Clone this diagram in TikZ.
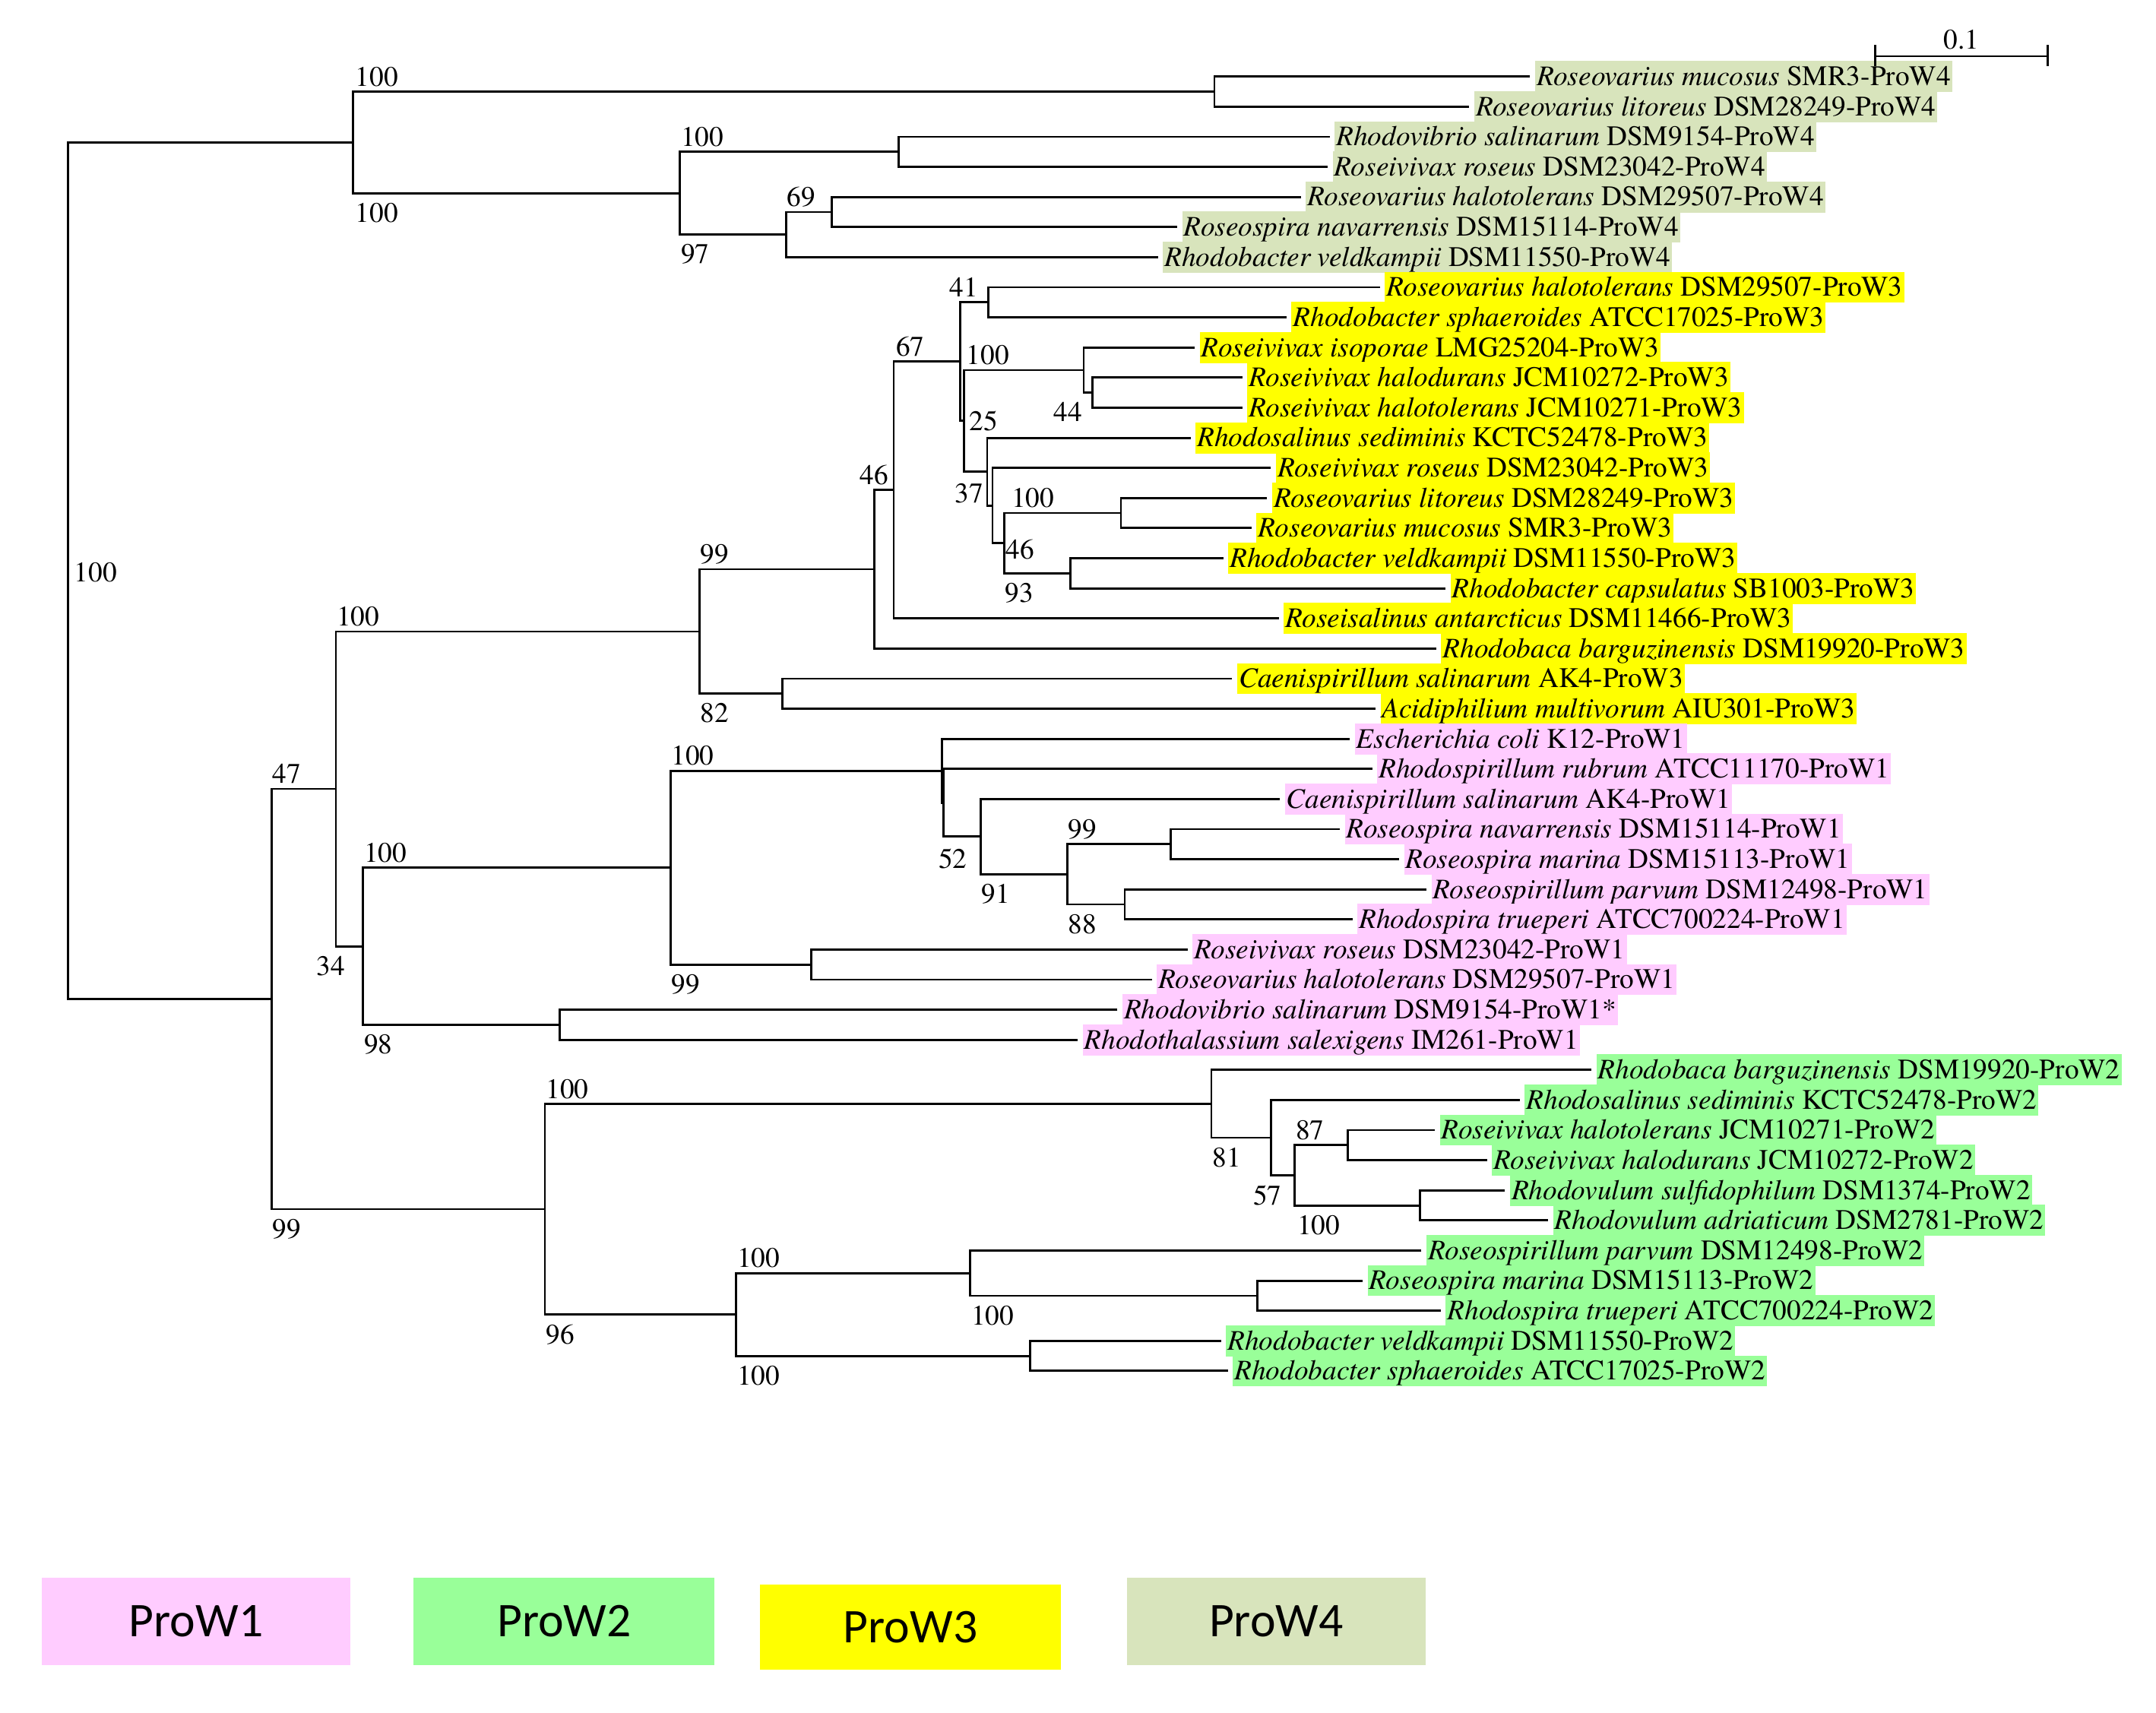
\documentclass[tikz,border=0pt]{standalone}
\usepackage{fontspec}
\setmainfont{texgyretermes}[Extension=.otf, UprightFont=*-regular, ItalicFont=*-italic, BoldFont=*-bold, BoldItalicFont=*-bolditalic]
\newfontfamily\legfont{Carlito}
\definecolor{w1col}{HTML}{FFCCFF}
\definecolor{w2col}{HTML}{99FF99}
\definecolor{w3col}{HTML}{FFFF00}
\definecolor{w4col}{HTML}{D8E4BC}
\tikzset{
	leaf/.style={anchor=west, inner xsep=1.2pt, inner ysep=1.2pt, outer xsep=3.6pt, outer ysep=0pt, text height=16.5pt, text depth=3.5pt},
	w1/.style={leaf, fill=w1col},
	w2/.style={leaf, fill=w2col},
	w3/.style={leaf, fill=w3col},
	w4/.style={leaf, fill=w4col},
	bsa/.style={anchor=base west, inner sep=0pt, yshift=4pt},
	bsb/.style={anchor=north west, inner sep=0pt, yshift=-6.3pt},
	legbox/.style={inner sep=0pt, minimum height=63.2pt, font=\legfont\fontsize{35}{40}\selectfont}
}
\begin{document}
\begin{tikzpicture}[x=1pt, y=-1pt, line width=1.55pt, font=\fontsize{20.5}{22}\selectfont]
	\useasboundingbox (0,0) rectangle (1560,1238.9);

	%leaves ProW4
	\node[w4] (l1) at (1107.1,55.4) {\textit{Roseovarius mucosus} SMR3-ProW4};
	\node[w4] (l2) at (1063.1,77.2) {\textit{Roseovarius litoreus} DSM28249-ProW4};
	\node[w4] (l3) at (962.1,99.0) {\textit{Rhodovibrio salinarum} DSM9154-ProW4};
	\node[w4] (l4) at (960.6,120.7) {\textit{Roseivivax roseus} DSM23042-ProW4};
	\node[w4] (l5) at (941.2,142.5) {\textit{Roseovarius halotolerans} DSM29507-ProW4};
	\node[w4] (l6) at (851.8,164.3) {\textit{Roseospira navarrensis} DSM15114-ProW4};
	\node[w4] (l7) at (837.9,186.1) {\textit{Rhodobacter veldkampii} DSM11550-ProW4};
	%leaves ProW3
	\node[w3] (l8) at (998.3,207.9) {\textit{Roseovarius halotolerans} DSM29507-ProW3};
	\node[w3] (l9) at (930.9,229.6) {\textit{Rhodobacter sphaeroides} ATCC17025-ProW3};
	\node[w3] (l10) at (864.5,251.4) {\textit{Roseivivax isoporae} LMG25204-ProW3};
	\node[w3] (l11) at (898.9,273.2) {\textit{Roseivivax halodurans} JCM10272-ProW3};
	\node[w3] (l12) at (898.9,295.0) {\textit{Roseivivax halotolerans} JCM10271-ProW3};
	\node[w3] (l13) at (861.5,316.8) {\textit{Rhodosalinus sediminis} KCTC52478-ProW3};
	\node[w3] (l14) at (919.6,338.5) {\textit{Roseivivax roseus} DSM23042-ProW3};
	\node[w3] (l15) at (916.8,360.3) {\textit{Roseovarius litoreus} DSM28249-ProW3};
	\node[w3] (l16) at (905.6,382.1) {\textit{Roseovarius mucosus} SMR3-ProW3};
	\node[w3] (l17) at (885.1,403.9) {\textit{Rhodobacter veldkampii} DSM11550-ProW3};
	\node[w3] (l18) at (1045.9,425.7) {\textit{Rhodobacter capsulatus} SB1003-ProW3};
	\node[w3] (l19) at (925.3,447.4) {\textit{Roseisalinus antarcticus} DSM11466-ProW3};
	\node[w3] (l20) at (1039.2,469.2) {\textit{Rhodobaca barguzinensis} DSM19920-ProW3};
	\node[w3] (l21) at (891.6,491.0) {\textit{Caenispirillum salinarum} AK4-ProW3};
	\node[w3] (l22) at (995.4,512.8) {\textit{Acidiphilium multivorum} AIU301-ProW3};
	%leaves ProW1
	\node[w1] (l23) at (976.7,534.6) {\textit{Escherichia coli} K12-ProW1};
	\node[w1] (l24) at (992.8,556.3) {\textit{Rhodospirillum rubrum} ATCC11170-ProW1};
	\node[w1] (l25) at (926.0,578.1) {\textit{Caenispirillum salinarum} AK4-ProW1};
	\node[w1] (l26) at (969.5,599.9) {\textit{Roseospira navarrensis} DSM15114-ProW1};
	\node[w1] (l27) at (1012.4,621.7) {\textit{Roseospira marina} DSM15113-ProW1};
	\node[w1] (l28) at (1032.1,643.5) {\textit{Roseospirillum parvum} DSM12498-ProW1};
	\node[w1] (l29) at (978.5,665.2) {\textit{Rhodospira trueperi} ATCC700224-ProW1};
	\node[w1] (l30) at (859.2,687.0) {\textit{Roseivivax roseus} DSM23042-ProW1};
	\node[w1] (l31) at (833.5,708.8) {\textit{Roseovarius halotolerans} DSM29507-ProW1};
	\node[w1] (l32) at (808.5,730.6) {\textit{Rhodovibrio salinarum} DSM9154-ProW1*};
	\node[w1] (l33) at (779.8,752.4) {\textit{Rhodothalassium salexigens} IM261-ProW1};
	%leaves ProW2
	\node[w2] (l34) at (1151.4,774.1) {\textit{Rhodobaca barguzinensis} DSM19920-ProW2};
	\node[w2] (l35) at (1099.7,795.9) {\textit{Rhodosalinus sediminis} KCTC52478-ProW2};
	\node[w2] (l36) at (1038.2,817.7) {\textit{Roseivivax halotolerans} JCM10271-ProW2};
	\node[w2] (l37) at (1075.9,839.5) {\textit{Roseivivax halodurans} JCM10272-ProW2};
	\node[w2] (l38) at (1088.9,861.3) {\textit{Rhodovulum sulfidophilum} DSM1374-ProW2};
	\node[w2] (l39) at (1120.1,883.0) {\textit{Rhodovulum adriaticum} DSM2781-ProW2};
	\node[w2] (l40) at (1028.5,904.8) {\textit{Roseospirillum parvum} DSM12498-ProW2};
	\node[w2] (l41) at (985.9,926.6) {\textit{Roseospira marina} DSM15113-ProW2};
	\node[w2] (l42) at (1042.5,948.4) {\textit{Rhodospira trueperi} ATCC700224-ProW2};
	\node[w2] (l43) at (883.5,970.2) {\textit{Rhodobacter veldkampii} DSM11550-ProW2};
	\node[w2] (l44) at (888.4,991.9) {\textit{Rhodobacter sphaeroides} ATCC17025-ProW2};

	%inner nodes
	\coordinate (root) at (49,412.9);
	\coordinate (c4) at (255.5,103.05);
	\coordinate (c4a) at (878.7,66.3);
	\coordinate (c4b) at (492,139.8);
	\coordinate (c4c) at (650,109.85);
	\coordinate (c4d) at (568.8,169.75);
	\coordinate (c4e) at (601.7,153.4);
	\coordinate (c123) at (196.4,722.8);
	\coordinate (c13) at (243,570.8);
	\coordinate (c3) at (506.1,456.9);
	\coordinate (c3a) at (632.4,411.85);
	\coordinate (c3b) at (646.6,354.5);
	\coordinate (c3c) at (694.7,261.6);
	\coordinate (c3d) at (715.2,218.75);
	\coordinate (c3e) at (697.4,304.5);
	\coordinate (c3f) at (784.1,267.75);
	\coordinate (c3g) at (790.3,284.1);
	\coordinate (c3h) at (714.3,341.3);
	\coordinate (c3i) at (718.1,365.75);
	\coordinate (c3j) at (726.7,393);
	\coordinate (c3k) at (811.1,371.2);
	\coordinate (c3l) at (774.4,414.8);
	\coordinate (c3m) at (566.2,501.9);
	\coordinate (c1) at (262.7,684.65);
	\coordinate (c1a) at (485.1,627.8);
	\coordinate (c1b) at (681.4,557.7);
	\coordinate (c1c) at (682.6,580.8);
	\coordinate (c1d) at (709.5,605.35);
	\coordinate (c1e) at (772.1,632.6);
	\coordinate (c1f) at (847.2,610.8);
	\coordinate (c1g) at (813.8,654.35);
	\coordinate (c1h) at (587.2,697.9);
	\coordinate (c1i) at (405.1,741.5);
	\coordinate (c2) at (394.3,874.85);
	\coordinate (c2a) at (876.5,798.6);
	\coordinate (c2b) at (919.6,823.15);
	\coordinate (c2c) at (936.9,850.4);
	\coordinate (c2d) at (975.1,828.6);
	\coordinate (c2e) at (1027.4,872.15);
	\coordinate (c2f) at (532.7,951.1);
	\coordinate (c2g) at (702.1,921.15);
	\coordinate (c2h) at (909.9,937.5);
	\coordinate (c2i) at (745.5,981.05);

	%branches ProW4
	\draw (l1.west) -| (c4a) |- (l2.west);
	\draw (l3.west) -| (c4c) |- (l4.west);
	\draw (l5.west) -| (c4e) |- (l6.west);
	\draw (c4e) -| (c4d) |- (l7.west);
	\draw (c4c) -| (c4b) |- (c4d);
	\draw (c4a) -| (c4) |- (c4b);
	%branches ProW3
	\draw (l8.west) -| (c3d) |- (l9.west);
	\draw (l11.west) -| (c3g) |- (l12.west);
	\draw (l10.west) -| (c3f) |- (c3g);
	\draw (l15.west) -| (c3k) |- (l16.west);
	\draw (l17.west) -| (c3l) |- (l18.west);
	\draw (c3k) -| (c3j) |- (c3l);
	\draw (l14.west) -| (c3i) |- (c3j);
	\draw (l13.west) -| (c3h) |- (c3i);
	\draw (c3f) -| (c3e) |- (c3h);
	\draw (c3d) -| (c3c) |- (c3e);
	\draw (c3c) -| (c3b) |- (l19.west);
	\draw (c3b) -| (c3a) |- (l20.west);
	\draw (l21.west) -| (c3m) |- (l22.west);
	\draw (c3a) -| (c3) |- (c3m);
	%branches ProW1
	\draw (l26.west) -| (c1f) |- (l27.west);
	\draw (l28.west) -| (c1g) |- (l29.west);
	\draw (c1f) -| (c1e) |- (c1g);
	\draw (l25.west) -| (c1d) |- (c1e);
	\draw (l24.west) -| (c1c) |- (c1d);
	\draw (l23.west) -| (c1b) |- (c1c);
	\draw (l30.west) -| (c1h) |- (l31.west);
	\draw (c1b) -| (c1a) |- (c1h);
	\draw (l32.west) -| (c1i) |- (l33.west);
	\draw (c1a) -| (c1) |- (c1i);
	\draw (c3) -| (c13) |- (c1);
	%branches ProW2
	\draw (l36.west) -| (c2d) |- (l37.west);
	\draw (l38.west) -| (c2e) |- (l39.west);
	\draw (c2d) -| (c2c) |- (c2e);
	\draw (l35.west) -| (c2b) |- (c2c);
	\draw (l34.west) -| (c2a) |- (c2b);
	\draw (l41.west) -| (c2h) |- (l42.west);
	\draw (l40.west) -| (c2g) |- (c2h);
	\draw (l43.west) -| (c2i) |- (l44.west);
	\draw (c2g) -| (c2f) |- (c2i);
	\draw (c2a) -| (c2) |- (c2f);
	\draw (c13) -| (c123) |- (c2);
	\draw (c4) -| (root) |- (c123);%root

	%bootstrap values
	\node[anchor=west, inner sep=0pt, xshift=4pt, yshift=-1pt] (bs0) at (root) {100};
	\node[bsa, xshift=1pt] (bs1) at (c4 |- c4a) {100};
	\node[bsb, xshift=1pt] (bs2) at (c4 |- c4b) {100};
	\node[bsa] (bs3) at (c4b |- c4c) {100};
	\node[bsb] (bs4) at (c4b |- c4d) {97};
	\node[bsa] (bs5) at (c4d |- c4e) {69};
	\node[bsa, xshift=-8.3pt] (bs6) at (c3c |- c3d) {41};
	\node[bsa, xshift=1pt] (bs7) at (c3b |- c3c) {67};
	\node[bsa, xshift=1.2pt] (bs8) at (c3e |- c3f) {100};
	\node[bsb, xshift=-22.5pt] (bs9) at (c3f |- c3g) {44};
	\node[anchor=west, inner sep=0pt, xshift=3.4pt] (bs10) at (c3e) {25};
	\node[bsb, xshift=-7.3pt, yshift=-1.6pt] (bs11) at (c3e |- c3h) {37};
	\node[bsa, xshift=4.5pt] (bs12) at (c3j |- c3k) {100};
	\node[anchor=north west, inner sep=0pt, xshift=0.5pt, yshift=3.5pt] (bs13) at (c3j) {46};
	\node[bsb] (bs14) at (c3j |- c3l) {93};
	\node[bsa, xshift=-10.9pt] (bs15) at (c3a |- c3b) {46};
	\node[bsa] (bs16) at (c3 |- c3a) {99};
	\node[bsb] (bs17) at (c3 |- c3m) {82};
	\node[bsa] (bs18) at (c13 |- c3) {100};
	\node[bsa] (bs19) at (c123 |- c13) {47};
	\node[bsb, xshift=-14.7pt] (bs20) at (c13 |- c1) {34};
	\node[bsa] (bs21) at (c1 |- c1a) {100};
	\node[bsb] (bs22) at (c1 |- c1i) {98};
	\node[bsa] (bs23) at (c1a |- c1b) {100};
	\node[bsb] (bs24) at (c1a |- c1h) {99};
	\node[bsb, xshift=-4.1pt, yshift=-1.5pt] (bs25) at (c1c |- c1d) {52};
	\node[bsb] (bs26) at (c1d |- c1e) {91};
	\node[bsa] (bs27) at (c1e |- c1f) {99};
	\node[bsb] (bs28) at (c1e |- c1g) {88};
	\node[bsb] (bs29) at (c123 |- c2) {99};
	\node[bsa] (bs30) at (c2 |- c2a) {100};
	\node[bsb] (bs31) at (c2 |- c2f) {96};
	\node[bsa] (bs32) at (c2f |- c2g) {100};
	\node[bsb] (bs33) at (c2f |- c2i) {100};
	\node[bsb] (bs34) at (c2g |- c2h) {100};
	\node[bsb] (bs35) at (c2a |- c2b) {81};
	\node[bsb, xshift=-13.5pt] (bs36) at (c2b |- c2c) {57};
	\node[bsa] (bs37) at (c2c |- c2d) {87};
	\node[bsb, xshift=1pt] (bs38) at (c2c |- c2e) {100};

	%scale bar
	\coordinate (sb0) at (1356.7,40.7);
	\coordinate (sb1) at (1481.5,40.7);
	\draw (sb0) -- node[anchor=base, inner sep=0pt, yshift=5pt] (sbl) {0.1} (sb1);
	\draw ([yshift=8.1pt]sb0) -- ([yshift=-7.3pt]sb0);
	\draw ([yshift=8.1pt]sb1) -- ([yshift=-7.3pt]sb1);

	%legend
	\node[legbox, fill=w1col, minimum width=223.7pt] (lg1) at (141.9,1173) {ProW1};
	\node[legbox, fill=w2col, minimum width=217.7pt] (lg2) at (408.2,1173) {ProW2};
	\node[legbox, fill=w3col, minimum width=217.7pt, minimum height=61.8pt] (lg3) at (658.8,1177.3) {ProW3};
	\node[legbox, fill=w4col, minimum width=215.8pt] (lg4) at (923.4,1173) {ProW4};
\end{tikzpicture}
\end{document}
